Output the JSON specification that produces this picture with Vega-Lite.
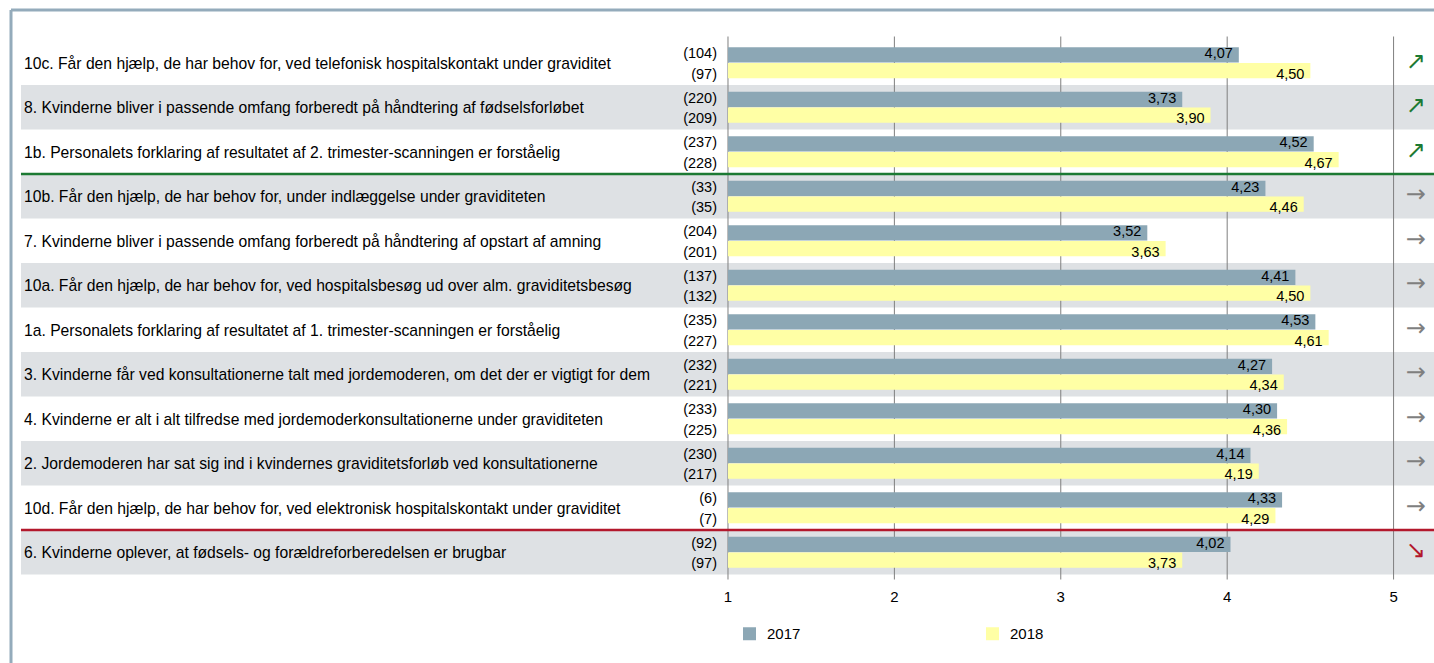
{
  "$schema": "https://vega.github.io/schema/vega-lite/v6.json",
  "width": 1423,
  "height": 653,
  "autosize": {"type": "none"},
  "padding": {"left": 11, "top": 10, "right": 0, "bottom": 0},
  "background": "white",
  "config": {
    "view": {"stroke": "#94abbb", "strokeWidth": 3, "strokeDash": [1423, 2076, 653, 0]},
    "axis": {"disable": true},
    "font": "Liberation Sans",
    "locale": {"number": {"decimal": ",", "thousands": ".", "grouping": [3], "currency": ["(", ")"]}},
    "text": {"fontSize": 14.5, "color": "#000000", "font": "Liberation Sans"}
  },
  "datasets": {
    "questions": [
      {"nr": 1, "q": "10c. Får den hjælp, de har behov for, ved telefonisk hospitalskontakt under graviditet", "trend": "↗"},
      {"nr": 2, "q": "8. Kvinderne bliver i passende omfang forberedt på håndtering af fødselsforløbet", "trend": "↗"},
      {"nr": 3, "q": "1b. Personalets forklaring af resultatet af 2. trimester-scanningen er forståelig", "trend": "↗"},
      {"nr": 4, "q": "10b. Får den hjælp, de har behov for, under indlæggelse under graviditeten", "trend": "→"},
      {"nr": 5, "q": "7. Kvinderne bliver i passende omfang forberedt på håndtering af opstart af amning", "trend": "→"},
      {"nr": 6, "q": "10a. Får den hjælp, de har behov for, ved hospitalsbesøg ud over alm. graviditetsbesøg", "trend": "→"},
      {"nr": 7, "q": "1a. Personalets forklaring af resultatet af 1. trimester-scanningen er forståelig", "trend": "→"},
      {"nr": 8, "q": "3. Kvinderne får ved konsultationerne talt med jordemoderen, om det der er vigtigt for dem", "trend": "→"},
      {"nr": 9, "q": "4. Kvinderne er alt i alt tilfredse med jordemoderkonsultationerne under graviditeten", "trend": "→"},
      {"nr": 10, "q": "2. Jordemoderen har sat sig ind i kvindernes graviditetsforløb ved konsultationerne", "trend": "→"},
      {"nr": 11, "q": "10d. Får den hjælp, de har behov for, ved elektronisk hospitalskontakt under graviditet", "trend": "→"},
      {"nr": 12, "q": "6. Kvinderne oplever, at fødsels- og forældreforberedelsen er brugbar", "trend": "↘"}
    ],
    "bars": [
      {"nr": 1, "year": "2017", "n": 104, "value": 4.07},
      {"nr": 1, "year": "2018", "n": 97, "value": 4.50},
      {"nr": 2, "year": "2017", "n": 220, "value": 3.73},
      {"nr": 2, "year": "2018", "n": 209, "value": 3.90},
      {"nr": 3, "year": "2017", "n": 237, "value": 4.52},
      {"nr": 3, "year": "2018", "n": 228, "value": 4.67},
      {"nr": 4, "year": "2017", "n": 33, "value": 4.23},
      {"nr": 4, "year": "2018", "n": 35, "value": 4.46},
      {"nr": 5, "year": "2017", "n": 204, "value": 3.52},
      {"nr": 5, "year": "2018", "n": 201, "value": 3.63},
      {"nr": 6, "year": "2017", "n": 137, "value": 4.41},
      {"nr": 6, "year": "2018", "n": 132, "value": 4.50},
      {"nr": 7, "year": "2017", "n": 235, "value": 4.53},
      {"nr": 7, "year": "2018", "n": 227, "value": 4.61},
      {"nr": 8, "year": "2017", "n": 232, "value": 4.27},
      {"nr": 8, "year": "2018", "n": 221, "value": 4.34},
      {"nr": 9, "year": "2017", "n": 233, "value": 4.30},
      {"nr": 9, "year": "2018", "n": 225, "value": 4.36},
      {"nr": 10, "year": "2017", "n": 230, "value": 4.14},
      {"nr": 10, "year": "2018", "n": 217, "value": 4.19},
      {"nr": 11, "year": "2017", "n": 6, "value": 4.33},
      {"nr": 11, "year": "2018", "n": 7, "value": 4.29},
      {"nr": 12, "year": "2017", "n": 92, "value": 4.02},
      {"nr": 12, "year": "2018", "n": 97, "value": 3.73}
    ],
    "ticks": [{"tick": 1}, {"tick": 2}, {"tick": 3}, {"tick": 4}, {"tick": 5}]
  },
  "resolve": {"scale": {"color": "independent"}},
  "layer": [
    {
      "data": {"name": "questions"},
      "transform": [{"filter": "datum.nr % 2 == 0"}],
      "mark": {"type": "rect", "color": "#dee1e4"},
      "encoding": {
        "x": {"datum": -3.249, "type": "quantitative", "scale": {"type": "linear", "domain": [-3.309, 5.243], "nice": false, "zero": false}},
        "x2": {"datum": 5.243},
        "y": {"field": "nr", "type": "ordinal", "scale": {"type": "band", "domain": [1,2,3,4,5,6,7,8,9,10,11,12], "range": [30.5, 564.5], "paddingInner": 0, "paddingOuter": 0}}
      }
    },
    {
      "data": {"name": "ticks"},
      "mark": {"type": "rule", "color": "#7f7f7f", "strokeWidth": 1, "yOffset": -4, "y2Offset": 5},
      "encoding": {
        "x": {"field": "tick", "type": "quantitative"},
        "y": {"datum": 1, "type": "ordinal", "bandPosition": 0},
        "y2": {"datum": 12, "bandPosition": 1}
      }
    },
    {
      "data": {"name": "bars"},
      "mark": {"type": "bar"},
      "encoding": {
        "x": {"field": "value", "type": "quantitative"},
        "x2": {"datum": 1},
        "y": {"field": "nr", "type": "ordinal"},
        "yOffset": {"field": "year", "type": "nominal", "scale": {"paddingInner": 0.03, "paddingOuter": 0.435}},
        "fill": {
          "field": "year", "type": "nominal",
          "scale": {"domain": ["2017", "2018"], "range": ["#8ca7b5", "#ffffa5"]},
          "legend": {
            "orient": "none", "legendX": 731, "legendY": 616, "direction": "horizontal",
            "title": null, "symbolType": "square", "symbolSize": 169, "symbolStrokeWidth": 0,
            "labelFontSize": 15, "labelOffset": 10, "columnPadding": 184, "padding": 0,
            "labelColor": "#000000", "labelFont": "Liberation Sans"
          }
        }
      }
    },
    {
      "data": {"name": "questions"},
      "transform": [{"filter": "datum.nr == 3"}],
      "mark": {"type": "rule", "color": "#1c7a33", "strokeWidth": 2.5},
      "encoding": {
        "x": {"datum": -3.249, "type": "quantitative"},
        "x2": {"datum": 5.243},
        "y": {"field": "nr", "type": "ordinal", "bandPosition": 1}
      }
    },
    {
      "data": {"name": "questions"},
      "transform": [{"filter": "datum.nr == 12"}],
      "mark": {"type": "rule", "color": "#b3182c", "strokeWidth": 2.5},
      "encoding": {
        "x": {"datum": -3.249, "type": "quantitative"},
        "x2": {"datum": 5.243},
        "y": {"field": "nr", "type": "ordinal", "bandPosition": 0}
      }
    },
    {
      "data": {"name": "questions"},
      "mark": {"type": "text", "align": "left", "baseline": "middle", "dy": 1, "fontSize": 15.7},
      "encoding": {
        "x": {"datum": -3.231, "type": "quantitative"},
        "y": {"field": "nr", "type": "ordinal"},
        "text": {"field": "q"}
      }
    },
    {
      "data": {"name": "bars"},
      "transform": [{"filter": "datum.year == '2017'"}],
      "mark": {"type": "text", "align": "right", "baseline": "middle", "dx": -11, "dy": -0.5},
      "encoding": {
        "x": {"datum": 1, "type": "quantitative"},
        "y": {"field": "nr", "type": "ordinal"},
        "yOffset": {"field": "year", "type": "nominal"},
        "text": {"field": "n", "type": "quantitative", "format": "$d"}
      }
    },
    {
      "data": {"name": "bars"},
      "transform": [{"filter": "datum.year == '2018'"}],
      "mark": {"type": "text", "align": "right", "baseline": "middle", "dx": -11, "dy": 4},
      "encoding": {
        "x": {"datum": 1, "type": "quantitative"},
        "y": {"field": "nr", "type": "ordinal"},
        "yOffset": {"field": "year", "type": "nominal"},
        "text": {"field": "n", "type": "quantitative", "format": "$d"}
      }
    },
    {
      "data": {"name": "bars"},
      "transform": [{"filter": "datum.year == '2017'"}],
      "mark": {"type": "text", "align": "right", "baseline": "middle", "dx": -6, "dy": -0.5},
      "encoding": {
        "x": {"field": "value", "type": "quantitative"},
        "y": {"field": "nr", "type": "ordinal"},
        "yOffset": {"field": "year", "type": "nominal"},
        "text": {"field": "value", "type": "quantitative", "format": ".2f"}
      }
    },
    {
      "data": {"name": "bars"},
      "transform": [{"filter": "datum.year == '2018'"}],
      "mark": {"type": "text", "align": "right", "baseline": "middle", "dx": -6, "dy": 4},
      "encoding": {
        "x": {"field": "value", "type": "quantitative"},
        "y": {"field": "nr", "type": "ordinal"},
        "yOffset": {"field": "year", "type": "nominal"},
        "text": {"field": "value", "type": "quantitative", "format": ".2f"}
      }
    },
    {
      "data": {"name": "questions"},
      "mark": {"type": "text", "align": "center", "baseline": "middle", "font": "DejaVu Sans", "fontSize": 24, "dy": -1},
      "encoding": {
        "x": {"datum": 5.134, "type": "quantitative"},
        "y": {"field": "nr", "type": "ordinal"},
        "text": {"field": "trend"},
        "color": {"field": "trend", "type": "nominal", "scale": {"domain": ["↗", "→", "↘"], "range": ["#1c7a33", "#7f7f7f", "#b3182c"]}, "legend": null}
      }
    },
    {
      "data": {"name": "ticks"},
      "mark": {"type": "text", "align": "center", "baseline": "middle", "dy": 22.5, "fontSize": 15},
      "encoding": {
        "x": {"field": "tick", "type": "quantitative"},
        "y": {"datum": 12, "type": "ordinal", "bandPosition": 1},
        "text": {"field": "tick", "type": "quantitative"}
      }
    }
  ]
}
